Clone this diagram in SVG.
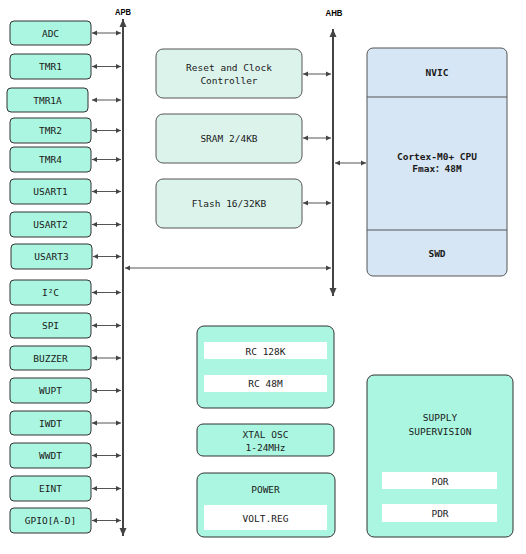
<svg xmlns="http://www.w3.org/2000/svg" width="526" height="554" viewBox="0 0 526 554">
<style>
.per{fill:#abf6e0;stroke:#333;stroke-width:1}
.mem{fill:#dcf3ec;stroke:#555;stroke-width:1}
.cpu{fill:#d7e6f4;stroke:#555;stroke-width:1}
.strip{fill:#fff;stroke:none}
.t{font-family:"DejaVu Sans Mono","Liberation Mono","Noto Sans CJK SC",monospace;font-size:9.5px;fill:#1a1a1a;text-anchor:middle;dominant-baseline:central}
.tb{font-weight:bold}
.bl{font-family:"Liberation Sans",Arial,sans-serif;font-size:9px;font-weight:bold;fill:#000;text-anchor:middle}
.ar{stroke:#555;stroke-width:1;fill:none}
.bus{stroke:#444;stroke-width:2;fill:none}
</style>
<defs>
<marker id="ah" markerUnits="userSpaceOnUse" markerWidth="6" markerHeight="6" refX="5" refY="3" orient="auto-start-reverse" viewBox="0 0 6 6">
<path d="M0,0.5 L5,3 L0,5.5 Z" fill="#444"/>
</marker>
<marker id="bh" markerUnits="userSpaceOnUse" markerWidth="10" markerHeight="10" refX="8" refY="4" orient="auto-start-reverse" viewBox="0 0 10 8">
<path d="M0,0.5 L8,4 L0,7.5 Z" fill="#444"/>
</marker>
</defs>

<g id="connectors">
<line class="bus" x1="123" y1="536" x2="123" y2="19" marker-end="url(#bh)" marker-start="url(#bh)"/>
<line class="bus" x1="333" y1="296" x2="333" y2="29" marker-end="url(#bh)" marker-start="url(#bh)"/>
<line class="ar" x1="92" y1="33" x2="121" y2="33" marker-start="url(#ah)" marker-end="url(#ah)"/>
<line class="ar" x1="92" y1="66.5" x2="121" y2="66.5" marker-start="url(#ah)" marker-end="url(#ah)"/>
<line class="ar" x1="92" y1="100" x2="121" y2="100" marker-start="url(#ah)" marker-end="url(#ah)"/>
<line class="ar" x1="92" y1="130.5" x2="121" y2="130.5" marker-start="url(#ah)" marker-end="url(#ah)"/>
<line class="ar" x1="92" y1="159.5" x2="121" y2="159.5" marker-start="url(#ah)" marker-end="url(#ah)"/>
<line class="ar" x1="92" y1="191.5" x2="121" y2="191.5" marker-start="url(#ah)" marker-end="url(#ah)"/>
<line class="ar" x1="92" y1="224.5" x2="121" y2="224.5" marker-start="url(#ah)" marker-end="url(#ah)"/>
<line class="ar" x1="93" y1="256.5" x2="121" y2="256.5" marker-start="url(#ah)" marker-end="url(#ah)"/>
<line class="ar" x1="92" y1="292.5" x2="121" y2="292.5" marker-start="url(#ah)" marker-end="url(#ah)"/>
<line class="ar" x1="92" y1="325.5" x2="121" y2="325.5" marker-start="url(#ah)" marker-end="url(#ah)"/>
<line class="ar" x1="92" y1="358" x2="121" y2="358" marker-start="url(#ah)" marker-end="url(#ah)"/>
<line class="ar" x1="92" y1="390.5" x2="121" y2="390.5" marker-start="url(#ah)" marker-end="url(#ah)"/>
<line class="ar" x1="92" y1="423" x2="121" y2="423" marker-start="url(#ah)" marker-end="url(#ah)"/>
<line class="ar" x1="92" y1="455.5" x2="121" y2="455.5" marker-start="url(#ah)" marker-end="url(#ah)"/>
<line class="ar" x1="92" y1="488.5" x2="121" y2="488.5" marker-start="url(#ah)" marker-end="url(#ah)"/>
<line class="ar" x1="92" y1="520.5" x2="121" y2="520.5" marker-start="url(#ah)" marker-end="url(#ah)"/>
<line class="ar" x1="125" y1="268" x2="331" y2="268" marker-start="url(#ah)" marker-end="url(#ah)"/>
<line class="ar" x1="303" y1="74" x2="331" y2="74" marker-start="url(#ah)" marker-end="url(#ah)"/>
<line class="ar" x1="303" y1="138" x2="331" y2="138" marker-start="url(#ah)" marker-end="url(#ah)"/>
<line class="ar" x1="303" y1="203" x2="331" y2="203" marker-start="url(#ah)" marker-end="url(#ah)"/>
<line class="ar" x1="335" y1="163" x2="366" y2="163" marker-start="url(#ah)" marker-end="url(#ah)"/>
</g>

<text class="bl" x="123" y="15" textLength="16" lengthAdjust="spacingAndGlyphs">APB</text>
<text class="bl" x="334" y="16" textLength="17" lengthAdjust="spacingAndGlyphs">AHB</text>

<g id="adc"><rect class="per" x="10" y="21" width="81" height="24" rx="4"/><text class="t" x="50.5" y="33">ADC</text></g>
<g id="tmr1"><rect class="per" x="10" y="54" width="81" height="25" rx="4"/><text class="t" x="50.5" y="66.5">TMR1</text></g>
<g id="tmr1a"><rect class="per" x="7" y="88" width="81" height="24" rx="4"/><text class="t" x="47.5" y="100">TMR1A</text></g>
<g id="tmr2"><rect class="per" x="10" y="118" width="81" height="25" rx="4"/><text class="t" x="50.5" y="130.5">TMR2</text></g>
<g id="tmr4"><rect class="per" x="10" y="147" width="81" height="25" rx="4"/><text class="t" x="50.5" y="159.5">TMR4</text></g>
<g id="usart1"><rect class="per" x="10" y="179" width="81" height="25" rx="4"/><text class="t" x="50.5" y="191.5">USART1</text></g>
<g id="usart2"><rect class="per" x="10" y="212" width="81" height="25" rx="4"/><text class="t" x="50.5" y="224.5">USART2</text></g>
<g id="usart3"><rect class="per" x="11" y="244" width="81" height="25" rx="4"/><text class="t" x="51.5" y="256.5">USART3</text></g>
<g id="i2c"><rect class="per" x="10" y="280" width="81" height="25" rx="4"/><text class="t" x="50.5" y="292.5">I²C</text></g>
<g id="spi"><rect class="per" x="10" y="313" width="81" height="25" rx="4"/><text class="t" x="50.5" y="325.5">SPI</text></g>
<g id="buzzer"><rect class="per" x="10" y="346" width="81" height="24" rx="4"/><text class="t" x="50.5" y="358">BUZZER</text></g>
<g id="wupt"><rect class="per" x="10" y="378" width="81" height="25" rx="4"/><text class="t" x="50.5" y="390.5">WUPT</text></g>
<g id="iwdt"><rect class="per" x="10" y="411" width="81" height="24" rx="4"/><text class="t" x="50.5" y="423">IWDT</text></g>
<g id="wwdt"><rect class="per" x="10" y="443" width="81" height="25" rx="4"/><text class="t" x="50.5" y="455.5">WWDT</text></g>
<g id="eint"><rect class="per" x="10" y="476" width="81" height="25" rx="4"/><text class="t" x="50.5" y="488.5">EINT</text></g>
<g id="gpio"><rect class="per" x="10" y="508" width="81" height="25" rx="4"/><text class="t" x="50.5" y="520.5">GPIO[A-D]</text></g>

<g id="rcc"><rect class="mem" x="156" y="49" width="146" height="49" rx="7"/><text class="t" x="229" y="67">Reset and Clock</text><text class="t" x="229" y="80">Controller</text></g>
<g id="sram"><rect class="mem" x="156" y="114" width="146" height="49" rx="7"/><text class="t" x="229" y="138.5">SRAM 2/4KB</text></g>
<g id="flash"><rect class="mem" x="156" y="179" width="146" height="49" rx="7"/><text class="t" x="229" y="203.5">Flash 16/32KB</text></g>

<g id="cpu">
<rect class="cpu" x="367" y="48" width="140" height="228" rx="6"/>
<line x1="367" y1="97" x2="507" y2="97" stroke="#555" stroke-width="1"/>
<line x1="367" y1="230" x2="507" y2="230" stroke="#555" stroke-width="1"/>
<text class="t tb" x="437" y="72">NVIC</text>
<text class="t tb" x="437" y="156">Cortex-M0+ CPU</text>
<text class="t tb" x="437" y="168">Fmax：48M</text>
<text class="t tb" x="437" y="253">SWD</text>
</g>

<g id="rc">
<rect class="per" x="197" y="326" width="137" height="82" rx="7"/>
<rect class="strip" x="204" y="342" width="123" height="17"/>
<rect class="strip" x="204" y="375" width="123" height="17"/>
<text class="t" x="265.5" y="351">RC 128K</text>
<text class="t" x="265.5" y="383.5">RC 48M</text>
</g>
<g id="xtal">
<rect class="per" x="197" y="424" width="137" height="32" rx="6"/>
<text class="t" x="265.5" y="434.5">XTAL OSC</text>
<text class="t" x="265.5" y="447">1-24MHz</text>
</g>
<g id="power">
<rect class="per" x="197" y="473" width="138" height="64" rx="7"/>
<rect class="strip" x="204" y="505" width="123" height="25"/>
<text class="t" x="265.5" y="489.5">POWER</text>
<text class="t" x="265.5" y="518.5">VOLT.REG</text>
</g>
<g id="supply">
<rect class="per" x="367" y="375" width="146" height="162" rx="7"/>
<rect class="strip" x="382" y="472" width="115" height="17"/>
<rect class="strip" x="382" y="504" width="115" height="18"/>
<text class="t" x="440" y="417">SUPPLY</text>
<text class="t" x="440" y="431.5">SUPERVISION</text>
<text class="t" x="440" y="481">POR</text>
<text class="t" x="440" y="513">PDR</text>
</g>
</svg>
